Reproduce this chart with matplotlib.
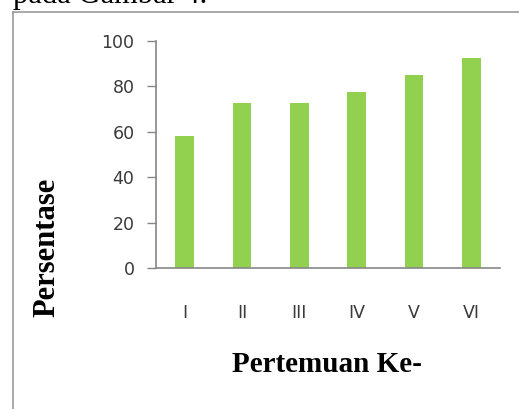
import matplotlib.pyplot as plt
from matplotlib.lines import Line2D

# data
pertemuan = ['I', 'II', 'III', 'IV', 'V', 'VI']
persentase = [58, 72.5, 72.5, 77.5, 85, 92.5]
yticks = [0, 20, 40, 60, 80, 100]

W, H = 519, 409
fig = plt.figure(figsize=(W / 100, H / 100), dpi=100)
fig.patch.set_facecolor('white')

# document frame around the chart
fig.add_artist(Line2D([13 / W, 13 / W], [0, 1 - 12 / H], color='#9a9a9a', lw=1.2))
fig.add_artist(Line2D([13 / W, 1], [1 - 12 / H, 1 - 12 / H], color='#9a9a9a', lw=1.2))
# caption of the document, cut off at the top
fig.text(13 / W, 1 - 3 / H, 'pada Gambar 4.', family='Liberation Serif', fontsize=22,
         va='baseline', ha='left', color='black')

ax = fig.add_axes([156 / W, 1 - 268 / H, (500 - 156) / W, (268 - 41) / H])
ax.bar(range(len(pertemuan)), persentase, width=0.33, color='#92d050', zorder=2)
ax.set_xlim(-0.5, len(pertemuan) - 0.5)
ax.set_ylim(0, 100)
ax.set_yticks(yticks)
ax.set_xticks(range(len(pertemuan)))
ax.set_xticklabels(pertemuan, family='DejaVu Sans', fontsize=12.5, color='#3a3a3a')
ax.set_yticklabels([str(t) for t in yticks], family='DejaVu Sans', fontsize=12.5, color='#3a3a3a')
ax.tick_params(axis='x', length=0, pad=26)
ax.tick_params(axis='y', length=6.5, width=1, color='#868686', pad=9, direction='out')
for s in ['top', 'right']:
    ax.spines[s].set_visible(False)
for s in ['left', 'bottom']:
    ax.spines[s].set_color('#868686')
    ax.spines[s].set_linewidth(1.2)

fig.text(327 / W, 1 - 364 / H, 'Pertemuan Ke-', family='Liberation Serif', weight='bold',
         fontsize=21, ha='center', va='center')
fig.text(47 / W, 1 - 247 / H, 'Persentase', family='Liberation Serif', weight='bold',
         fontsize=22, ha='center', va='center', rotation=90)

fig.savefig('out.png', dpi=100)
